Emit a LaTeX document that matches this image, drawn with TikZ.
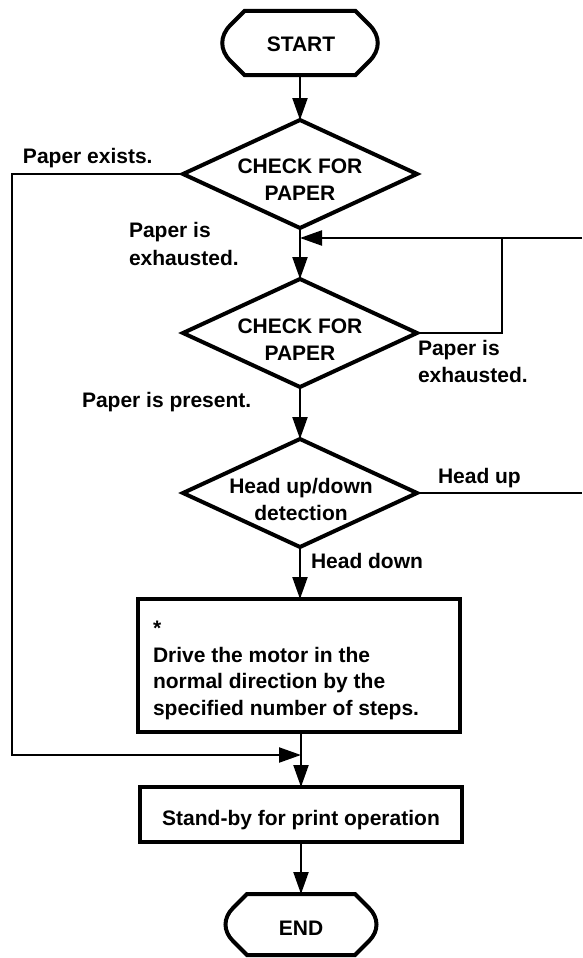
\documentclass[tikz,border=0pt]{standalone}
\usepackage{fontspec}
\setmainfont{Liberation Sans}
\usetikzlibrary{arrows.meta,shapes.geometric,calc}
\begin{document}
\begin{tikzpicture}[x=1pt,y=-1pt,
  every node/.style={font=\bfseries\fontsize{21}{26.5}\selectfont, inner sep=0pt, outer sep=0pt},
  dia/.style={shape=diamond, draw, line width=4pt, minimum width=234pt, minimum height=108pt},
  boxnode/.style={draw, line width=4.5pt, rectangle},
  termnode/.style={rectangle, draw=none},
  termline/.style={line width=4pt, line join=miter},
  conn/.style={line width=2.2pt},
  arr/.style={conn, -{Triangle[length=22pt,width=15pt]}},
  lbl/.style={anchor=base west},
  ctr/.style={anchor=base}]
\useasboundingbox (0,0) rectangle (582,958);

% START terminal
\node[termnode, minimum width=157pt, minimum height=64pt] (start) at (300,43) {};
\draw[termline] ($(start.north west)+(23,0)$) -- ($(start.north east)+(-23,0)$)
  -- ($(start.north east)+(-9,14)$)
  .. controls ($(start.north east)+(2,25)$) and ($(start.south east)+(2,-25)$) .. ($(start.south east)+(-9,-14)$)
  -- ($(start.south east)+(-23,0)$)
  -- ($(start.south west)+(23,0)$)
  -- ($(start.south west)+(9,-14)$)
  .. controls ($(start.south west)+(-2,-25)$) and ($(start.north west)+(-2,25)$) .. ($(start.north west)+(9,14)$)
  -- cycle;
\node[ctr] (startt) at (301,52) {START};

% decision 1
\node[dia] (d1) at (300,174) {};
\node[ctr] (d1a) at (300,173) {CHECK FOR};
\node[ctr] (d1b) at (300,200) {PAPER};

% decision 2
\node[dia] (d2) at (300,333) {};
\node[ctr] (d2a) at (300,333) {CHECK FOR};
\node[ctr] (d2b) at (300,360) {PAPER};

% decision 3
\node[dia] (d3) at (300,493) {};
\node[ctr] (d3a) at (301,493) {Head up/down};
\node[ctr] (d3b) at (301,520) {detection};

% process box 1
\node[boxnode, minimum width=322pt, minimum height=133pt] (b1) at (299,665.5) {};
\node[lbl] (b1a) at (153,635.5) {*};
\node[lbl] (b1b) at (153,662) {Drive the motor in the};
\node[lbl] (b1c) at (153,688.5) {normal direction by the};
\node[lbl] (b1d) at (153,715) {specified number of steps.};

% process box 2
\node[boxnode, minimum width=322pt, minimum height=55pt] (b2) at (301,814.5) {};
\node[ctr] (b2t) at (301,825) {Stand-by for print operation};

% END terminal
\node[termnode, minimum width=152pt, minimum height=61pt] (endn) at (301,924.5) {};
\draw[termline] ($(endn.north west)+(22,0)$) -- ($(endn.north east)+(-22,0)$)
  -- ($(endn.north east)+(-8,14)$)
  .. controls ($(endn.north east)+(2,24)$) and ($(endn.south east)+(2,-24)$) .. ($(endn.south east)+(-8,-14)$)
  -- ($(endn.south east)+(-22,0)$)
  -- ($(endn.south west)+(22,0)$)
  -- ($(endn.south west)+(8,-14)$)
  .. controls ($(endn.south west)+(-2,-24)$) and ($(endn.north west)+(-2,24)$) .. ($(endn.north west)+(8,14)$)
  -- cycle;
\node[ctr] (endt) at (301,935) {END};

% coordinates for free ends / junctions
\coordinate (loopR) at (582,238);
\coordinate (loopX) at (502,238);
\coordinate (loopIn) at (300,238);
\coordinate (headR) at (582,493);
\coordinate (lx) at (12,755);
\coordinate (jn) at (301,755);

% main connectors
\draw[arr] (start.south) -- (d1.north);
\draw[arr] (d1.south) -- (d2.north);
\draw[arr] (d2.south) -- (d3.north);
\draw[arr] (d3.south) -- (d3.south |- b1.north);
\draw[arr] (b2.north |- b1.south) -- (b2.north);
\draw[arr] (b2.south) -- (endn.north);

% loop back and side lines
\draw[arr] (loopR) -- (loopIn);
\draw[conn] (d2.east) -| (loopX);
\draw[conn] (d3.east) -- (headR);
\draw[arr] (d1.west) -| (lx) -- (jn);

% labels
\node[lbl] (l1) at (23,163) {Paper exists.};
\node[lbl] (l2a) at (129,237) {Paper is};
\node[lbl] (l2b) at (129,265) {exhausted.};
\node[lbl] (l3a) at (418,355) {Paper is};
\node[lbl] (l3b) at (418,382) {exhausted.};
\node[lbl] (l4) at (82,407) {Paper is present.};
\node[lbl] (l5) at (438,483) {Head up};
\node[lbl] (l6) at (311,568) {Head down};
\end{tikzpicture}
\end{document}
